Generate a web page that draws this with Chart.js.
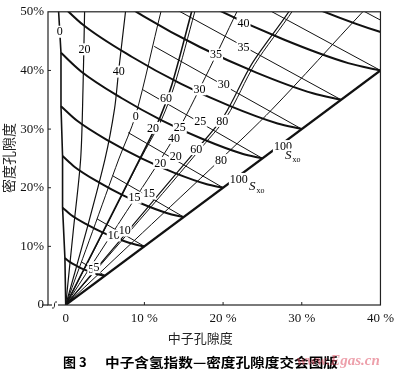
<!DOCTYPE html>
<html><head><meta charset="utf-8">
<script src="https://cdn.jsdelivr.net/npm/chart.js@4.4.0/dist/chart.umd.min.js"></script>
<style>html,body{margin:0;padding:0;background:#fff;}</style>
</head><body>
<canvas id="c" width="400" height="370"></canvas>
<script>
// ---------- data (neutron porosity N %, density porosity D %) ----------
const xTicks = [0, 10, 20, 30, 40];
const yTicks = [0, 10, 20, 30, 40, 50];
const porosities = [5, 10, 15, 20, 25, 30, 35, 40, 45];

// Set A porosity curves (bold)
const aCurveN = [
  [-0.1, 0.41, 1.43, 2.45, 3.47, 4.49, 5],
  [-0.4, 0.64, 2.72, 4.8, 6.88, 8.96, 10],
  [-0.4, 1.14, 4.22, 7.3, 10.38, 13.46, 15],
  [-0.6, 1.46, 5.58, 9.7, 13.82, 17.94, 20],
  [-0.6, 1.96, 7.08, 12.2, 17.32, 22.44, 25],
  [-0.8, 2.28, 8.44, 14.6, 20.76, 26.92, 30],
  [-0.9, 2.69, 9.87, 17.05, 24.23, 31.41, 35],
  [-1.0, 3.1, 11.3, 19.5, 27.7, 35.9, 40],
  [-1.1, 3.51, 12.73, 21.95, 31.17, 40.39, 45]
];
const aCurveD = [
  [8.0, 7.43, 6.64, 6.0, 5.49, 5.1, 5],
  [16.6, 15.39, 13.7, 12.3, 11.16, 10.26, 10],
  [25.4, 23.54, 20.9, 18.7, 16.89, 15.44, 15],
  [33.9, 31.41, 27.89, 24.95, 22.53, 20.59, 20],
  [43, 39.83, 35.3, 31.5, 28.35, 25.8, 25],
  [51.5, 47.7, 42.29, 37.75, 33.99, 30.95, 30],
  [60, 55.58, 49.28, 44.0, 39.63, 36.1, 35],
  [68.5, 63.45, 56.27, 50.25, 45.27, 41.25, 40],
  [77, 71.33, 63.26, 56.5, 50.91, 46.4, 45]
];
// Set B porosity curves (thin)
const bCurveN = [[1.98,5],[3.97,10],[5.95,15],[7.94,20],[9.74,25],[11.25,30],[12.6,35],[14.1,40],[15.5,45]];
const bCurveD = [[7.35,5],[14.7,10],[22.05,15],[29.4,20],[36.75,25],[44.1,30],[51.45,35],[58.8,40],[66.15,45]];

// Sxo lines, set A (Sxo = 0, 20, 40, 60, 80)
const aRayN = [
  [0, -0.1, -0.4, -0.4, -0.6, -0.6, -0.9, -1.0],
  [0, 0.95, 1.9, 2.2, 2.4, 2.45],
  [0, 2.6, 5.0, 6.2, 6.75, 7.6, 7.75],
  [0, 4.75, 9.4, 11.9, 13.5, 16, 16.4],
  [0, 11.9, 16.5, 20.1, 23.6, 28.5, 29.0]
];
const aRayD = [
  [0, 8, 16.6, 25.4, 33.9, 43, 50, 52],
  [0, 12.5, 24.9, 37, 50, 52],
  [0, 12.5, 24.9, 33.4, 40.2, 50, 52],
  [0, 12.5, 24.9, 31.7, 37.6, 50, 52],
  [0, 19, 26.3, 32.2, 41, 50.3, 52]
];
// Sxo lines, set B (Sxo = 0, 20, 40, 60, 80)
const bRayN = [
  [0, 3.4, 6.75, 8.9, 12.1, 12.6],
  [0, 4.8, 9.5, 12.2, 13.85, 16.4, 16.8],
  [0, 6.9, 13.75, 17.8, 21.75, 22.5],
  [0, 12.3, 16.9, 20.5, 24.0, 28.9, 29.4],
  [0, 9.75, 19.5, 26.25, 37.75, 39.2]
];
const bRayD = [
  [0, 12.5, 24.9, 32.4, 50, 52],
  [0, 12.5, 24.9, 31.7, 37.6, 50, 52],
  [0, 14.25, 28.5, 39, 50, 52],
  [0, 19, 26.3, 32.2, 41, 50.3, 52],
  [0, 12.3, 24.6, 33.4, 50, 52]
];
// Sxo = 100 line (N = D)
const diagN = [0, 40];
const diagD = [0, 40];

// Labels
const sxoLabels = ['0', '20', '40', '60', '80', '100'];
const aSxoLabelN = [-0.75, 2.4, 6.75, 12.75, 19.9, 27.6];
const aSxoLabelD = [46.6, 43.6, 39.8, 35.25, 31.4, 27.1];
const bSxoLabelN = [8.9, 11.1, 13.75, 16.6, 19.75, 22.0];
const bSxoLabelD = [32.2, 30.2, 28.5, 26.6, 24.7, 21.5];
const sxoTagN = [28.9, 24.3];
const sxoTagD = [25.5, 20.2];
const phiLabels = ['5', '10', '15', '20', '25', '30', '35', '40'];
const aPhiLabelN = [3.25, 6.1, 8.75, 12.0, 14.5, 17.0, 19.1, 22.6];
const aPhiLabelD = [6.1, 11.86, 18.3, 24.24, 30.34, 36.78, 42.7, 47.97];
const bPhiLabelN = [3.9, 7.5, 10.6, 14.0, 17.1, 20.1, 22.6];
const bPhiLabelD = [6.44, 12.7, 19.0, 25.4, 31.4, 37.6, 43.9];

// ---------- build datasets ----------
const INK = '#111';
const datasets = [];
function addLine(ns, ds, width, tension, mode) {
  datasets.push({
    data: ns.map((n, i) => ({x: n, y: ds[i]})),
    showLine: true, pointRadius: 0, pointHoverRadius: 0,
    borderColor: INK, borderWidth: width, fill: false,
    tension: tension, cubicInterpolationMode: mode || 'default'
  });
}
bCurveN.forEach((ns, i) => addLine(ns, bCurveD[i], 1, 0));
bRayN.forEach((ns, i) => addLine(ns, bRayD[i], 1, 0.3));
aRayN.forEach((ns, i) => addLine(ns, aRayD[i], i === 0 ? 1.6 : (i === 3 ? 1.6 : 1.2), i === 0 ? 0 : 0.3));
aCurveN.forEach((ns, i) => addLine(ns, aCurveD[i], 2, 0, 'monotone'));
addLine(diagN, diagD, 2.2, 0);

// ---------- decorations plugin ----------
const deco = {
  id: 'deco',
  afterDatasetsDraw(chart) {
    const ctx = chart.ctx, xs = chart.scales.x, ys = chart.scales.y, ca = chart.chartArea;
    const P = (n, d) => [xs.getPixelForValue(n), ys.getPixelForValue(d)];
    function label(t, n, d, size) {
      const [px, py] = P(n, d);
      ctx.save();
      ctx.font = (size || 12) + 'px "Liberation Serif"';
      const w = ctx.measureText(t).width;
      ctx.fillStyle = '#fff';
      ctx.fillRect(px - w / 2 - 1, py - 6, w + 2, 12);
      ctx.fillStyle = '#000';
      ctx.textAlign = 'center'; ctx.textBaseline = 'middle';
      ctx.fillText(t, px, py + 0.5);
      ctx.restore();
    }
    function sxoTag(n, d) {
      const [px, py] = P(n, d);
      ctx.save();
      ctx.fillStyle = '#fff';
      ctx.fillRect(px - 8, py - 7, 17, 14);
      ctx.fillStyle = '#000';
      ctx.textBaseline = 'middle'; ctx.textAlign = 'left';
      ctx.font = 'italic 13px "Liberation Serif"';
      ctx.fillText('S', px - 8, py);
      ctx.font = '8px "Liberation Serif"';
      ctx.fillText('xo', px - 0.5, py + 4);
      ctx.restore();
    }
    phiLabels.forEach((t, i) => label(t, aPhiLabelN[i], aPhiLabelD[i]));
    bPhiLabelN.forEach((n, i) => label(phiLabels[i], n, bPhiLabelD[i]));
    sxoLabels.forEach((t, i) => label(t, aSxoLabelN[i], aSxoLabelD[i]));
    sxoLabels.forEach((t, i) => label(t, bSxoLabelN[i], bSxoLabelD[i]));
    sxoTagN.forEach((n, i) => sxoTag(n, sxoTagD[i]));

    // frame
    ctx.save();
    ctx.strokeStyle = '#222'; ctx.lineWidth = 1.2;
    ctx.strokeRect(ca.left, ca.top, ca.right - ca.left, ca.bottom - ca.top);
    ctx.beginPath();
    ctx.moveTo(ca.left - 6, ca.bottom); ctx.lineTo(ca.left, ca.bottom);
    ctx.stroke();
    // inner ticks
    ctx.lineWidth = 1;
    yTicks.slice(1, -1).forEach(v => { const y = ys.getPixelForValue(v); ctx.beginPath(); ctx.moveTo(ca.left, y); ctx.lineTo(ca.left + 3, y); ctx.stroke(); });
    xTicks.slice(1, -1).forEach(v => { const x = xs.getPixelForValue(v); ctx.beginPath(); ctx.moveTo(x, ca.bottom); ctx.lineTo(x, ca.bottom - 3); ctx.stroke(); });
    // axis break mark
    ctx.fillStyle = '#fff';
    ctx.fillRect(ca.left + 4, ca.bottom - 4, 6, 8);
    ctx.beginPath();
    ctx.moveTo(ca.left + 4, ca.bottom + 3);
    ctx.bezierCurveTo(ca.left + 9, ca.bottom + 4, ca.left + 4, ca.bottom - 4, ca.left + 9, ca.bottom - 3);
    ctx.stroke();
    ctx.restore();

    // axis titles
    ctx.save();
    ctx.fillStyle = '#222';
    ctx.font = '13px "Noto Sans CJK SC"';
    ctx.textAlign = 'center'; ctx.textBaseline = 'middle';
    ctx.fillText('中子孔隙度', (ca.left + ca.right) / 2 - 14, 338);
    ctx.translate(9, 158); ctx.rotate(-Math.PI / 2);
    ctx.font = '14px "Noto Sans CJK SC"';
    ctx.fillText('密度孔隙度', 0, 0);
    ctx.restore();

    // caption
    ctx.save();
    ctx.fillStyle = '#000';
    ctx.font = 'bold 13px "Noto Sans CJK SC"';
    ctx.textBaseline = 'middle'; ctx.textAlign = 'left';
    ctx.fillText('图 3', 63, 362);
    const cap = '中子含氢指数—密度孔隙度交会图版';
    const w = ctx.measureText(cap).width;
    ctx.translate(105, 362); ctx.scale(233 / w, 1);
    ctx.fillText(cap, 0, 0);
    ctx.restore();
    // watermark
    ctx.save();
    ctx.fillStyle = 'rgba(222,80,100,0.55)';
    ctx.font = 'italic bold 15px "Liberation Serif"';
    ctx.textBaseline = 'middle'; ctx.textAlign = 'left';
    ctx.fillText('www.Egas.cn', 297, 361);
    ctx.restore();
  }
};

new Chart(document.getElementById('c'), {
  type: 'scatter',
  data: {datasets},
  plugins: [deco],
  options: {
    responsive: false, animation: false, devicePixelRatio: 1,
    layout: {padding: {top: 10, right: 14, left: 0, bottom: 0}},
    plugins: {legend: {display: false}, tooltip: {enabled: false}},
    scales: {
      x: {
        type: 'linear', min: -2.25, max: 40,
        afterBuildTicks: s => { s.ticks = xTicks.map(v => ({value: v})); },
        afterFit: s => { s.height = 65; },
        grid: {display: false, drawTicks: false}, border: {display: false},
        ticks: {callback: v => v === 0 ? '0' : v + ' %', color: '#111', padding: 6,
                font: {family: 'Liberation Serif', size: 13}, maxRotation: 0, autoSkip: false}
      },
      y: {
        type: 'linear', min: 0, max: 50,
        afterBuildTicks: s => { s.ticks = yTicks.map(v => ({value: v})); },
        afterFit: s => { s.width = 48; },
        grid: {display: false, drawTicks: false}, border: {display: false},
        ticks: {callback: v => v === 0 ? '0' : v + '%', color: '#111', padding: 4,
                font: {family: 'Liberation Serif', size: 13}, autoSkip: false}
      }
    }
  }
});
</script>
</body></html>
